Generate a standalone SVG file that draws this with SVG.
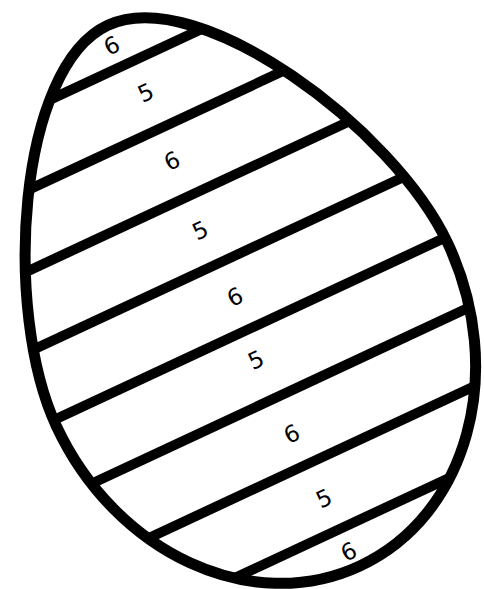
<svg xmlns="http://www.w3.org/2000/svg" width="484" height="589" viewBox="0 0 484 589">
<style>
.egg{fill:none;stroke:#000;stroke-width:11}
.stripe{stroke:#000;stroke-width:10;fill:none}
.lbl{font-family:"DejaVu Sans",sans-serif;font-size:23px;fill:#000;text-anchor:middle}
</style>
<defs>
<path id="eggShape" d="M87 68.5 C187 68.5 303 283 303 410 C303 550.8 206.3 665 87 665 C-32.3 665 -129 550.8 -129 410 C-129 283 -13 68.5 87 68.5 Z"/>
<clipPath id="eggClip"><use href="#eggShape"/></clipPath>
</defs>
<rect width="484" height="589" fill="#fff"/>
<g transform="rotate(-25)">
<g id="connectors" clip-path="url(#eggClip)">
<line class="stripe" x1="-200" y1="111.5" x2="400" y2="111.5"/>
<line class="stripe" x1="-200" y1="184" x2="400" y2="184"/>
<line class="stripe" x1="-200" y1="257.5" x2="400" y2="257.5"/>
<line class="stripe" x1="-200" y1="331" x2="400" y2="331"/>
<line class="stripe" x1="-200" y1="403.5" x2="400" y2="403.5"/>
<line class="stripe" x1="-200" y1="477" x2="400" y2="477"/>
<line class="stripe" x1="-200" y1="550.5" x2="400" y2="550.5"/>
<line class="stripe" x1="-200" y1="623" x2="400" y2="623"/>
</g>
<g id="egg"><use href="#eggShape" class="egg"/></g>
<g id="band1"><text class="lbl" x="82" y="96.5">6</text></g>
<g id="band2"><text class="lbl" x="93" y="153.5">5</text></g>
<g id="band3"><text class="lbl" x="88" y="226.5">6</text></g>
<g id="band4"><text class="lbl" x="84" y="301.5">5</text></g>
<g id="band5"><text class="lbl" x="87.5" y="376.5">6</text></g>
<g id="band6"><text class="lbl" x="80" y="442.5">5</text></g>
<g id="band7"><text class="lbl" x="81" y="524.5">6</text></g>
<g id="band8"><text class="lbl" x="83" y="596.5">5</text></g>
<g id="band9"><text class="lbl" x="83" y="655.5">6</text></g>
</g>
</svg>
